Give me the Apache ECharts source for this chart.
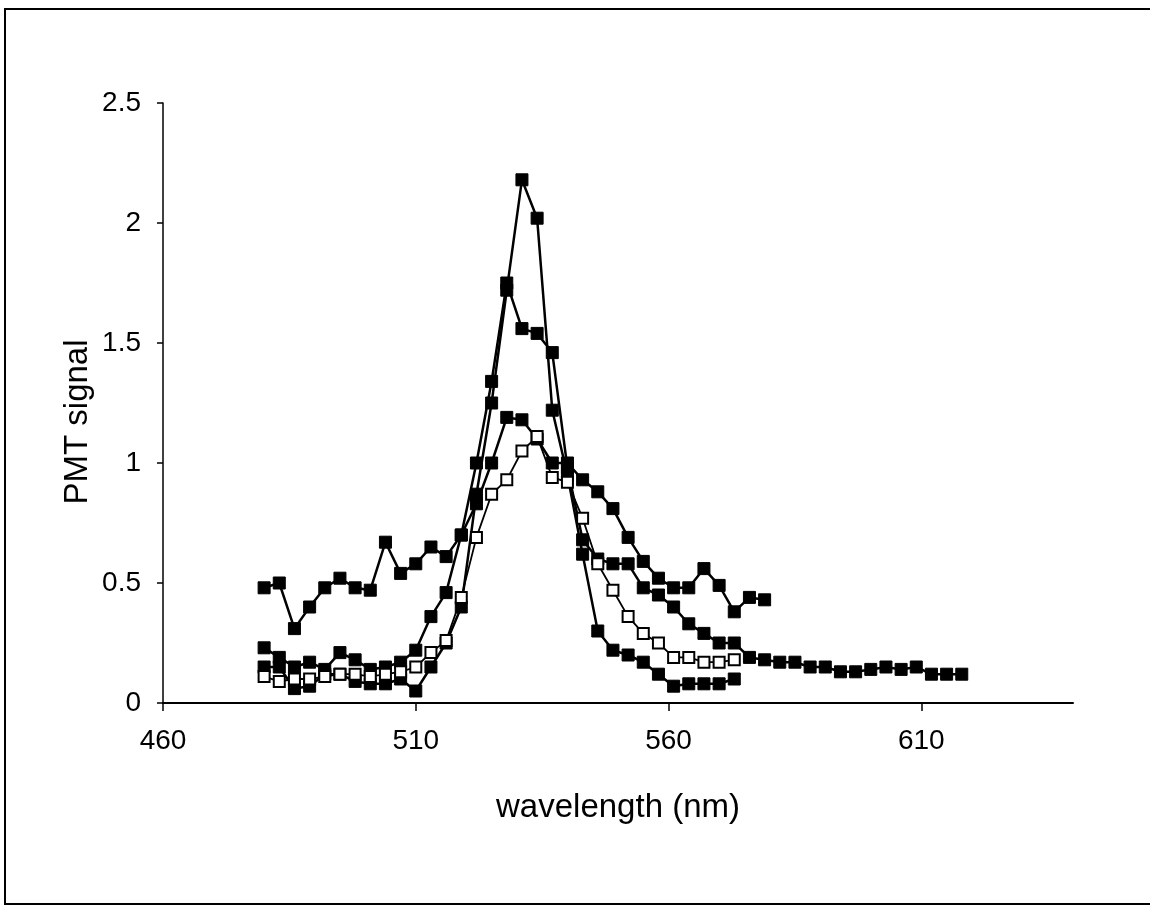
<!DOCTYPE html>
<html>
<head>
<meta charset="utf-8">
<script src="https://cdn.jsdelivr.net/npm/echarts@6/dist/echarts.min.js"></script>
<style>
html,body{margin:0;padding:0;background:#fff;}
#chart{width:1150px;height:913px;}
</style>
</head>
<body>
<div id="chart"></div>
<script>
// wavelengths (nm)
const wavelength = [480,483,486,489,492,495,498,501,504,507,510,513,516,519,522,525,528,531,534,537,540,543,546,549,552,555,558,561,564,567,570,573,576,579,582,585,588,591,594,597,600,603,606,609,612,615,618];
// series values (PMT signal)
const seriesA = [0.48,0.50,0.31,0.40,0.48,0.52,0.48,0.47,0.67,0.54,0.58,0.65,0.61,0.70,0.83,1.00,1.19,1.18,1.10,1.00,1.00,0.93,0.88,0.81,0.69,0.59,0.52,0.48,0.48,0.56,0.49,0.38,0.44,0.43];
const seriesB = [0.15,0.15,0.06,0.07,0.12,0.12,0.09,0.08,0.08,0.10,0.05,0.15,0.25,0.40,0.87,1.25,1.72,2.18,2.02,1.22,0.95,0.62,0.30,0.22,0.20,0.17,0.12,0.07,0.08,0.08,0.08,0.10];
const seriesC = [0.23,0.19,0.15,0.17,0.14,0.21,0.18,0.14,0.15,0.17,0.22,0.36,0.46,0.70,1.00,1.34,1.75,1.56,1.54,1.46,0.98,0.68,0.60,0.58,0.58,0.48,0.45,0.40,0.33,0.29,0.25,0.25,0.19,0.18,0.17,0.17,0.15,0.15,0.13,0.13,0.14,0.15,0.14,0.15,0.12,0.12,0.12];
const seriesD = [0.11,0.09,0.10,0.10,0.11,0.12,0.12,0.11,0.12,0.13,0.15,0.21,0.26,0.44,0.69,0.87,0.93,1.05,1.11,0.94,0.92,0.77,0.58,0.47,0.36,0.29,0.25,0.19,0.19,0.17,0.17,0.18];
// tick labels
const xTicks = [460,510,560,610];
const yTicks = [0,0.5,1,1.5,2,2.5];

function pairs(vals){ return vals.map((v,i)=>[wavelength[i], v]); }

const font = '"Liberation Sans", Arial, sans-serif';
const chart = echarts.init(document.getElementById('chart'));

function filled(name, vals){
  return {
    name, type:'line', data: pairs(vals),
    symbol:'rect', symbolSize:12,
    lineStyle:{color:'#000', width:2.5},
    itemStyle:{color:'#000', borderColor:'#000', borderWidth:1},
    animation:false, silent:true
  };
}

chart.setOption({
  backgroundColor:'#fff',
  animation:false,
  grid:{left:163, right:77, top:103, bottom:210, containLabel:false},
  xAxis:{
    type:'value', min:460, max:640, interval:50,
    name:'wavelength (nm)', nameLocation:'middle', nameGap:88,
    nameTextStyle:{fontFamily:font, fontSize:33, color:'#000'},
    axisLine:{show:true, lineStyle:{color:'#000', width:2}},
    axisTick:{show:true, length:8, lineStyle:{color:'#000', width:1.5}, customValues:xTicks},
    axisLabel:{fontFamily:font, fontSize:28, color:'#000', margin:24, customValues:xTicks},
    splitLine:{show:false}
  },
  yAxis:{
    type:'value', min:0, max:2.5, interval:0.5,
    axisLine:{show:true, lineStyle:{color:'#000', width:1.5}},
    axisTick:{show:true, length:6, lineStyle:{color:'#000', width:1.5}},
    axisLabel:{fontFamily:font, fontSize:28, color:'#000', margin:22,
      formatter: v => yTicks.includes(v) ? String(v) : ''},
    splitLine:{show:false}
  },
  graphic:[{
    type:'rect', shape:{x:5, y:9, width:1200, height:895},
    style:{fill:null, stroke:'#000', lineWidth:2}, silent:true, z:-1
  },{
    type:'text', x:78, y:422, rotation:Math.PI/2,
    style:{text:'PMT signal', fontFamily:font, fontSize:33, fill:'#000', align:'center', verticalAlign:'middle'},
    silent:true
  }],
  series:[
    filled('A', seriesA),
    filled('B', seriesB),
    filled('C', seriesC),
    {
      name:'D', type:'line', data: pairs(seriesD),
      symbol:'rect', symbolSize:11,
      lineStyle:{color:'#000', width:1.8},
      itemStyle:{color:'#fff', borderColor:'#000', borderWidth:2},
      animation:false, silent:true
    }
  ]
});
</script>
</body>
</html>
